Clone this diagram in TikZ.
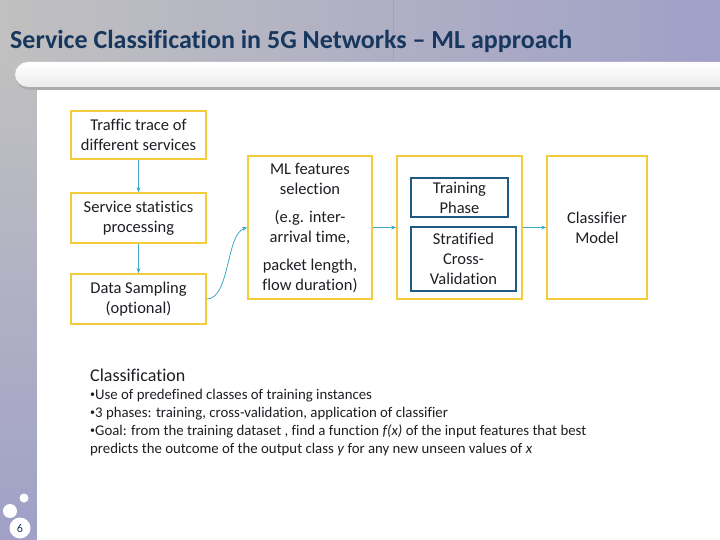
\documentclass[tikz,border=0pt]{standalone}
\usepackage{fontspec}
\setmainfont{Carlito}[Ligatures={TeX,NoCommon}]
\usepackage{tikz}
\usetikzlibrary{positioning,arrows.meta,calc}

\definecolor{bggrey}{RGB}{192,192,192}
\definecolor{bglav}{RGB}{160,160,200}
\definecolor{titleblue}{RGB}{23,55,94}
\definecolor{boxyellow}{RGB}{242,204,60}
\definecolor{phaseblue}{RGB}{31,90,130}
\definecolor{flowteal}{RGB}{60,170,200}
\definecolor{textdark}{RGB}{30,30,36}

\newcommand{\notebullet}{\raisebox{1.5pt}{\fontsize{10}{10}\selectfont•}}

\begin{document}
\begin{tikzpicture}[x=1pt,y=-1pt,
  every node/.style={font=\fontsize{16.5}{20}\selectfont, text=textdark},
  stagebox/.style={draw=boxyellow, line width=1.6pt, fill=white, align=center, inner sep=0pt},
  phasebox/.style={draw=phaseblue, line width=1.4pt, align=center, inner sep=0pt},
  flow/.style={draw=flowteal, line width=0.8pt, -{Stealth[length=5pt,width=4pt]}},
  bodyline/.style={anchor=base west, inner sep=0pt, font=\fontsize{14.8}{18}\selectfont}]
  \useasboundingbox (0,0) rectangle (720,540);

  % slide background
  \shade[left color=bggrey, middle color=bggrey, right color=bglav] (0,0) rectangle (720,90);
  \shade[top color=bggrey, bottom color=bglav] (0,62) rectangle (37,540);
  \fill[white] (37,88) rectangle (720,540);
  \draw[gray!70, line width=0.4pt] (393,0) -- (393,62);
  \fill[gray!65, rounded corners=13pt] (16,65) rectangle (740,90);
  \shade[top color=white, bottom color=gray!15, rounded corners=13pt] (15,62) rectangle (740,87);

  \node[anchor=base west, inner sep=0pt, font=\fontsize{26}{30}\selectfont\bfseries, text=titleblue] (title) at (10,49)
    {Service Classification in 5G Networks -- ML approach};

  % pipeline
  \node[stagebox, minimum width=135pt, minimum height=48pt] (trace) at (138.5,135) {Traffic trace of\\different services};
  \node[stagebox, minimum width=135pt, minimum height=50pt] (stats) at (138.5,218) {Service statistics\\processing};
  \node[stagebox, minimum width=135pt, minimum height=50pt] (sampling) at (138.5,299) {Data Sampling\\(optional)};
  \node[stagebox, minimum width=124pt, minimum height=143pt] (features) at (310,227.5)
    {ML features\\selection\\[8pt](e.g. inter-\\arrival time,\\[8pt]packet length,\\flow duration)};
  \node[stagebox, minimum width=125pt, minimum height=143pt] (learning) at (459.5,227.5) {};
  \node[phasebox, minimum width=97pt, minimum height=39pt] (training) at (459.5,197.5) {Training\\Phase};
  \node[phasebox, minimum width=105pt, minimum height=64pt] (crossval) at (463.5,259) {Stratified\\Cross-\\Validation};
  \node[stagebox, minimum width=100pt, minimum height=143pt] (classifier) at (597,227.5) {Classifier\\Model};

  \draw[flow] (trace) -- (stats);
  \draw[flow] (stats) -- (sampling);
  \draw[flow] (sampling.east) .. controls (230,299) and (226,234) .. (features.west);
  \draw[flow] (features) -- (learning);
  \draw[flow] (learning) -- (classifier);

  % notes
  \node[anchor=base west, inner sep=0pt, font=\fontsize{18}{21}\selectfont] (heading) at (90,381) {Classification};
  \node[bodyline] (note1) at (90,399) {\notebullet Use of predefined classes of training instances};
  \node[bodyline] (note2) at (90,417) {\notebullet 3 phases: training, cross-validation, application of classifier};
  \node[bodyline] (note3) at (90,435) {\notebullet Goal: from the training dataset , find a function \textit{f(x)} of the input features that best};
  \node[bodyline] (note4) at (90,453) {predicts the outcome of the output class \textit{y} for any new unseen values of \textit{x}};

  % page number
  \fill[white] (24,498) circle (4.5);
  \fill[white] (10,511) circle (7);
  \node[circle, fill=white, minimum size=21pt, inner sep=0pt, font=\fontsize{12}{14}\selectfont, text=titleblue] (pagenum) at (20,528) {6};
\end{tikzpicture}
\end{document}
